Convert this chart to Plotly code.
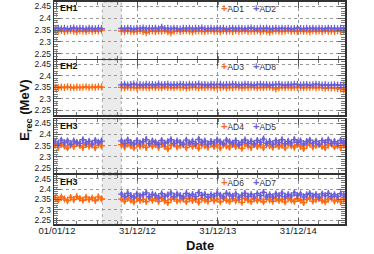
import pandas as pd
import plotly.graph_objects as go

# ---------------- data ----------------
pre_dates = pd.date_range("2011-12-24", periods=16, freq="14D")
post_dates = pd.date_range("2012-10-20", periods=73, freq="14D")
full_dates = pre_dates.append(post_dates)

AD1 = [2.347, 2.345, 2.348, 2.344, 2.346, 2.349, 2.345, 2.343, 2.347, 2.346, 2.344, 2.348, 2.345, 2.347, 2.346, 2.349,
       2.346, 2.344, 2.347, 2.345, 2.343, 2.346, 2.348, 2.344, 2.339, 2.345,
       2.347, 2.344, 2.346, 2.345, 2.348, 2.343, 2.338, 2.345, 2.347, 2.344,
       2.346, 2.348, 2.345, 2.343, 2.346, 2.347, 2.345, 2.344, 2.346, 2.348,
       2.345, 2.346, 2.343, 2.347, 2.345, 2.346, 2.344, 2.347, 2.345, 2.346,
       2.348, 2.344, 2.346, 2.345, 2.347, 2.343, 2.346, 2.345, 2.341, 2.346,
       2.347, 2.345, 2.344, 2.346, 2.348, 2.345, 2.346, 2.344, 2.347, 2.345,
       2.346, 2.343, 2.347, 2.345, 2.346, 2.344, 2.348, 2.345, 2.346, 2.344,
       2.347, 2.345, 2.346]
AD2 = [2.356, 2.358, 2.355, 2.357, 2.354, 2.356, 2.359, 2.355, 2.357, 2.356, 2.354, 2.358, 2.356, 2.355, 2.357, 2.356,
       2.357, 2.355, 2.358, 2.356, 2.354, 2.357, 2.356, 2.359, 2.355, 2.357,
       2.356, 2.358, 2.355, 2.362, 2.356, 2.357, 2.355, 2.358, 2.356, 2.354,
       2.357, 2.356, 2.358, 2.355, 2.357, 2.356, 2.359, 2.355, 2.356, 2.357,
       2.355, 2.358, 2.356, 2.357, 2.354, 2.356, 2.358, 2.355, 2.357, 2.356,
       2.355, 2.357, 2.359, 2.356, 2.355, 2.357, 2.356, 2.358, 2.355, 2.356,
       2.357, 2.355, 2.358, 2.356, 2.357, 2.355, 2.356, 2.358, 2.356, 2.355,
       2.357, 2.356, 2.358, 2.355, 2.357, 2.356, 2.355, 2.358, 2.356, 2.357,
       2.355, 2.357, 2.356]
AD3 = [2.350, 2.348, 2.351, 2.349, 2.352, 2.350, 2.348, 2.351, 2.349, 2.350, 2.352, 2.349, 2.351, 2.350, 2.352, 2.351,
       2.350, 2.348, 2.351, 2.349, 2.350, 2.347, 2.351, 2.349, 2.350, 2.348,
       2.351, 2.349, 2.350, 2.348, 2.352, 2.349, 2.350, 2.348, 2.351, 2.349,
       2.350, 2.347, 2.349, 2.351, 2.350, 2.348, 2.350, 2.349, 2.351, 2.350,
       2.348, 2.350, 2.349, 2.351, 2.348, 2.350, 2.349, 2.351, 2.350, 2.348,
       2.350, 2.349, 2.351, 2.350, 2.348, 2.350, 2.349, 2.351, 2.350, 2.349,
       2.343, 2.348, 2.350, 2.349, 2.351, 2.348, 2.350, 2.349, 2.350, 2.348,
       2.350, 2.349, 2.351, 2.348, 2.350, 2.349, 2.346, 2.349, 2.347, 2.348,
       2.345, 2.343, 2.340]
AD8 = [2.361, 2.363, 2.360, 2.362, 2.364, 2.361, 2.362, 2.360, 2.363, 2.361,
       2.362, 2.360, 2.364, 2.361, 2.362, 2.363, 2.360, 2.362, 2.361, 2.363,
       2.362, 2.360, 2.363, 2.361, 2.362, 2.364, 2.361, 2.362, 2.360, 2.363,
       2.361, 2.362, 2.363, 2.360, 2.362, 2.361, 2.363, 2.362, 2.360, 2.361,
       2.363, 2.362, 2.361, 2.360, 2.362, 2.363, 2.361, 2.362, 2.360, 2.361,
       2.362, 2.363, 2.361, 2.360, 2.362, 2.361, 2.363, 2.362, 2.360, 2.361,
       2.362, 2.360, 2.361, 2.363, 2.362, 2.360, 2.361, 2.359, 2.360, 2.361,
       2.360, 2.359, 2.360]
AD4 = [2.352, 2.343, 2.357, 2.348, 2.340, 2.355, 2.346, 2.359, 2.350, 2.342, 2.356, 2.347, 2.353, 2.341, 2.358, 2.349,
       2.354, 2.344, 2.358, 2.349, 2.340, 2.356, 2.347, 2.352, 2.342, 2.359,
       2.348, 2.355, 2.343, 2.357, 2.346, 2.336, 2.352, 2.358, 2.344, 2.350,
       2.355, 2.341, 2.357, 2.347, 2.353, 2.339, 2.356, 2.349, 2.343, 2.359,
       2.346, 2.353, 2.340, 2.357, 2.348, 2.343, 2.355, 2.346, 2.352, 2.338,
       2.357, 2.348, 2.342, 2.355, 2.346, 2.353, 2.341, 2.359, 2.349, 2.343,
       2.355, 2.346, 2.352, 2.340, 2.357, 2.349, 2.343, 2.355, 2.347, 2.337,
       2.352, 2.358, 2.344, 2.350, 2.356, 2.346, 2.341, 2.353, 2.359, 2.345,
       2.349, 2.342, 2.352]
AD5 = [2.368, 2.359, 2.374, 2.363, 2.371, 2.357, 2.370, 2.364, 2.360, 2.376, 2.362, 2.369, 2.358, 2.373, 2.365, 2.370,
       2.371, 2.360, 2.375, 2.364, 2.358, 2.372, 2.362, 2.368, 2.377, 2.359,
       2.370, 2.365, 2.356, 2.373, 2.361, 2.367, 2.376, 2.360, 2.371, 2.364,
       2.357, 2.374, 2.362, 2.369, 2.359, 2.378, 2.365, 2.370, 2.357, 2.368,
       2.362, 2.375, 2.366, 2.358, 2.374, 2.367, 2.361, 2.372, 2.356, 2.365,
       2.375, 2.360, 2.369, 2.358, 2.373, 2.364, 2.379, 2.361, 2.368, 2.357,
       2.372, 2.363, 2.376, 2.359, 2.369, 2.362, 2.377, 2.365, 2.371, 2.358,
       2.368, 2.374, 2.361, 2.369, 2.357, 2.372, 2.364, 2.375, 2.360, 2.368,
       2.359, 2.373, 2.365]
AD6 = [2.358, 2.347, 2.362, 2.352, 2.344, 2.360, 2.349, 2.364, 2.355, 2.346, 2.361, 2.350, 2.357, 2.345, 2.363, 2.353,
       2.352, 2.342, 2.357, 2.347, 2.338, 2.355, 2.345, 2.350, 2.340, 2.358,
       2.346, 2.353, 2.341, 2.356, 2.344, 2.335, 2.351, 2.357, 2.342, 2.348,
       2.354, 2.339, 2.356, 2.345, 2.351, 2.337, 2.355, 2.347, 2.341, 2.358,
       2.344, 2.352, 2.339, 2.356, 2.346, 2.341, 2.354, 2.344, 2.350, 2.336,
       2.356, 2.347, 2.340, 2.354, 2.345, 2.352, 2.339, 2.358, 2.348, 2.341,
       2.354, 2.345, 2.351, 2.338, 2.356, 2.347, 2.341, 2.354, 2.346, 2.335,
       2.351, 2.357, 2.342, 2.349, 2.355, 2.344, 2.339, 2.352, 2.358, 2.343,
       2.348, 2.340, 2.351]
AD7 = [2.376, 2.365, 2.380, 2.369, 2.362, 2.377, 2.367, 2.373, 2.382, 2.364,
       2.375, 2.370, 2.361, 2.378, 2.366, 2.372, 2.381, 2.365, 2.376, 2.369,
       2.362, 2.379, 2.367, 2.374, 2.364, 2.383, 2.370, 2.375, 2.362, 2.373,
       2.367, 2.380, 2.371, 2.363, 2.379, 2.372, 2.366, 2.377, 2.361, 2.370,
       2.380, 2.365, 2.374, 2.363, 2.378, 2.369, 2.384, 2.366, 2.373, 2.362,
       2.377, 2.368, 2.381, 2.364, 2.374, 2.367, 2.382, 2.370, 2.376, 2.363,
       2.373, 2.379, 2.366, 2.374, 2.362, 2.377, 2.369, 2.380, 2.365, 2.373,
       2.364, 2.378, 2.370]

ERR_EH12 = 0.0055  # point spread in EH1/EH2
ERR_EH3 = 0.010    # point spread in EH3

HALLS = ["EH1", "EH2", "EH3", "EH3"]
PANELS = [
    [("AD1", full_dates, AD1, ERR_EH12), ("AD2", full_dates, AD2, ERR_EH12)],
    [("AD3", full_dates, AD3, ERR_EH12), ("AD8", post_dates, AD8, ERR_EH12)],
    [("AD4", full_dates, AD4, ERR_EH3), ("AD5", full_dates, AD5, ERR_EH3)],
    [("AD6", full_dates, AD6, ERR_EH3), ("AD7", post_dates, AD7, ERR_EH3)],
]
X_TICKVALS = ["2012-01-01", "2012-12-31", "2013-12-31", "2014-12-31"]
X_TICKTEXT = ["01/01/12", "31/12/12", "31/12/13", "31/12/14"]
Y_TICKVALS = [2.25, 2.30, 2.35, 2.40, 2.45]
Y_TICKTEXT = ["2.25", "2.3", "2.35", "2.4", "2.45"]
SHUTDOWN = ("2012-07-25", "2012-10-19")

# ---------------- style ----------------
W, H = 374, 254
ORANGE = "#ff6a10"
BLUE = "#6a5fd8"
COLORS = [ORANGE, BLUE]
FONT = "Liberation Sans, Arial, sans-serif"
XDOM = [40 / W, 344 / W]
PANEL_PX = [(1, 58), (59.5, 115), (119, 173), (175.5, 225)]
YRANGE = [2.23, 2.468]
X_RANGE = ["2011-12-20", "2015-08-01"]


def fy(py):
    return 1 - py / H


fig = go.Figure()

for i, panel in enumerate(PANELS):
    idx = "" if i == 0 else str(i + 1)
    for j, (name, dates, vals, err) in enumerate(panel):
        fig.add_trace(go.Scatter(
            x=dates, y=vals, name=name, mode="markers",
            xaxis="x" + idx, yaxis="y" + idx,
            marker=dict(symbol="cross-thin", size=5, color=COLORS[j],
                        line=dict(color=COLORS[j], width=1.3)),
            error_y=dict(type="constant", value=err, color=COLORS[j],
                         thickness=2.4, width=0),
            showlegend=False,
        ))

layout = dict(
    width=W, height=H,
    margin=dict(l=0, r=0, t=0, b=0),
    paper_bgcolor="white", plot_bgcolor="white",
    font=dict(family=FONT, color="#222"),
    showlegend=False,
)

shapes = []
annotations = []
for i in range(4):
    idx = "" if i == 0 else str(i + 1)
    top, bot = PANEL_PX[i]
    layout["xaxis" + idx] = dict(
        domain=XDOM, anchor="y" + idx, type="date", range=X_RANGE,
        matches=None if i == 0 else "x",
        tickvals=X_TICKVALS, ticktext=X_TICKTEXT,
        showticklabels=(i == 3),
        tickfont=dict(size=9.5, family=FONT, color="#222"),
        ticklabelstandoff=-3,
        ticks="inside", ticklen=6, tickcolor="#555", tickwidth=1,
        minor=dict(dtick="M3", ticks="inside", ticklen=3, tickcolor="#777", showgrid=False),
        showgrid=True, gridcolor="#999", griddash="dot", gridwidth=1,
        showline=True, linecolor="#333", linewidth=1.5, mirror="ticks",
        zeroline=False,
    )
    layout["yaxis" + idx] = dict(
        domain=[fy(bot), fy(top)], anchor="x" + idx, range=YRANGE,
        tickvals=Y_TICKVALS, ticktext=Y_TICKTEXT,
        tickfont=dict(size=8.5, family=FONT, color="#222"),
        ticks="inside", ticklen=7, tickcolor="#666", tickwidth=1,
        minor=dict(dtick=0.01, tick0=2.25, ticks="inside", ticklen=4, tickcolor="#777", showgrid=False),
        showgrid=True, gridcolor="#999", griddash="dot", gridwidth=1,
        showline=True, linecolor="#333", linewidth=1.5, mirror="ticks",
        zeroline=False,
    )
    shapes.append(dict(
        type="rect", xref="x" + idx, yref="y" + idx + " domain",
        x0=SHUTDOWN[0], x1=SHUTDOWN[1], y0=0, y1=1,
        fillcolor="#ebebeb", line=dict(color="#aaa", width=1, dash="dot"),
        layer="below",
    ))
    annotations.append(dict(
        text="<b>%s</b>" % HALLS[i], xref="paper", yref="paper",
        x=44 / W, y=fy(top + 6.5), xanchor="left", yanchor="middle",
        showarrow=False, font=dict(size=9, family=FONT, color="#111"),
    ))
    for j, (name, _, _, _) in enumerate(PANELS[i]):
        annotations.append(dict(
            text="<span style='color:%s;font-size:11px'><b>+</b></span>%s" % (COLORS[j], name),
            xref="paper", yref="paper",
            x=(212 + 34 * j) / W, y=fy(top + 6.5), xanchor="left", yanchor="middle",
            showarrow=False, font=dict(size=8.5, family=FONT, color="#333"),
        ))

annotations.append(dict(
    text="<b>E<sub>rec</sub> (MeV)</b>", xref="paper", yref="paper",
    x=10 / W, y=fy(110), textangle=-90, xanchor="center", yanchor="middle",
    showarrow=False, font=dict(size=13, family=FONT, color="#111"),
))
annotations.append(dict(
    text="<b>Date</b>", xref="paper", yref="paper",
    x=192 / W, y=fy(246), xanchor="center", yanchor="middle",
    showarrow=False, font=dict(size=13, family=FONT, color="#111"),
))

layout["shapes"] = shapes
layout["annotations"] = annotations
fig.update_layout(**layout)

fig.write_html("out.html",
               config={"displayModeBar": False, "staticPlot": True},
               post_script="document.body.style.margin='0px';document.body.style.overflow='hidden';")
